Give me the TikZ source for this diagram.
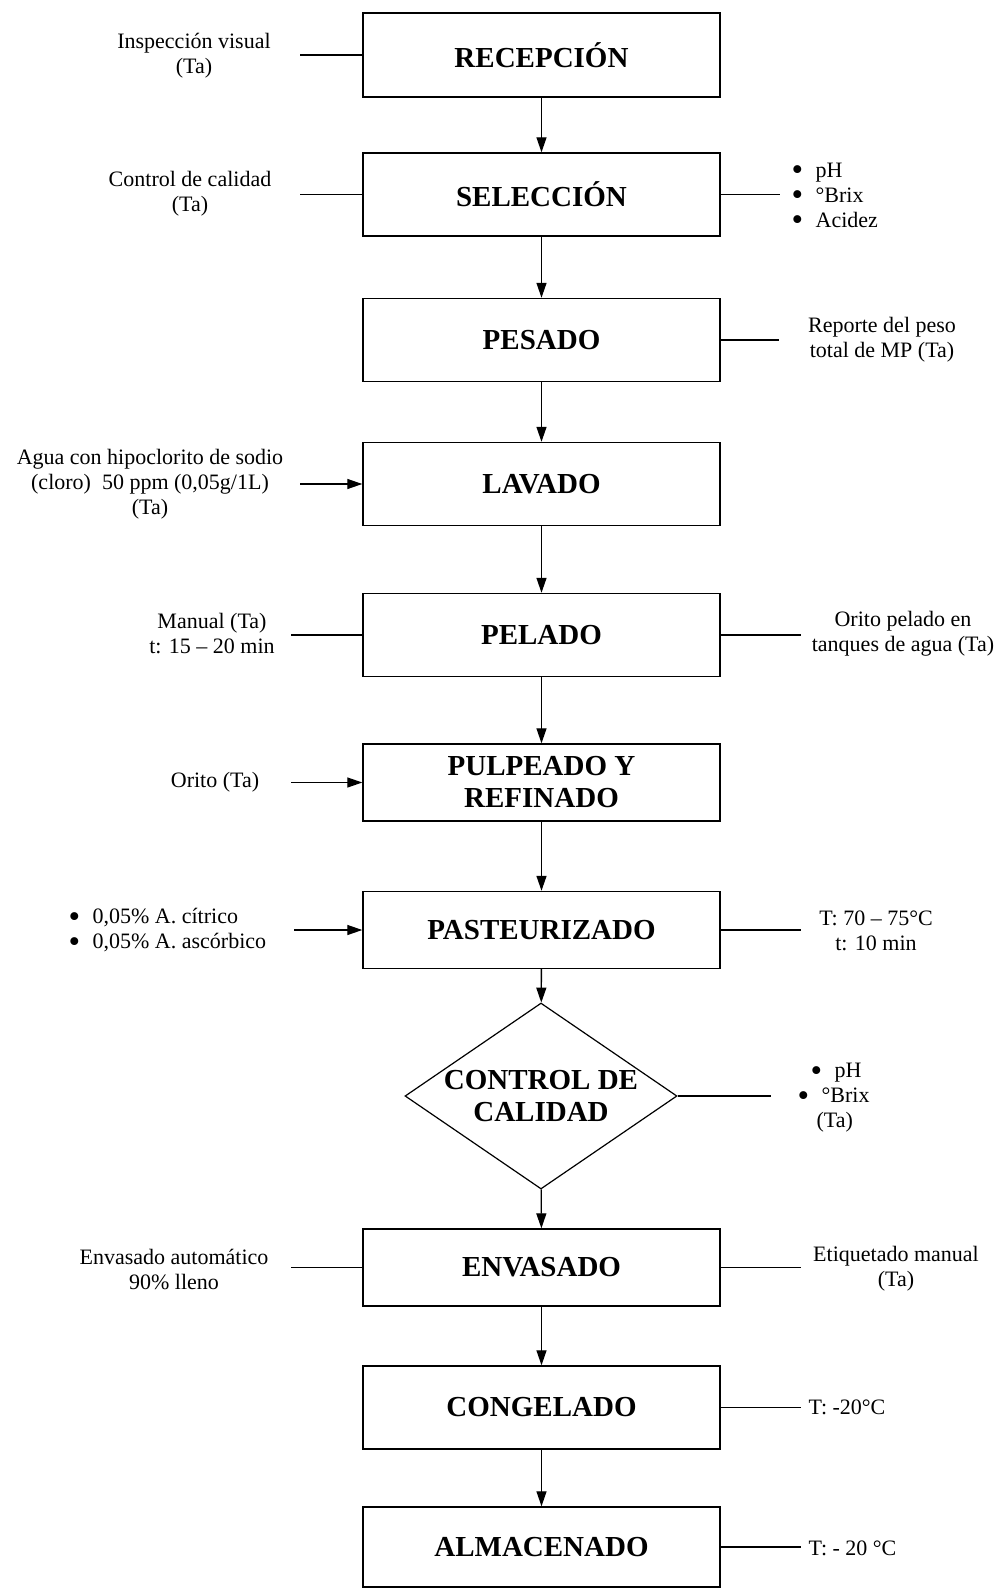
\documentclass[tikz,border=0pt]{standalone}
\usepackage{fontspec}
\setmainfont{Liberation Serif}
\usetikzlibrary{arrows.meta,shapes.geometric}

\newcommand{\itm}{\makebox[12pt][l]{\smash{\raisebox{-1.6pt}{\fontsize{16.5}{0}\selectfont\textbullet}}}}

\tikzset{
  stage/.style={draw, line width=0.7pt, minimum width=178.5pt, minimum height=41.5pt,
    inner sep=0pt, align=center, font=\fontsize{14.5}{16}\selectfont\bfseries},
  check/.style={draw, diamond, line width=0.6pt, minimum width=136pt, minimum height=93pt, inner sep=0pt},
  note/.style={inner sep=0pt, align=center, font=\fontsize{11}{12.5}\selectfont},
}

\begin{document}
\begin{tikzpicture}[x=0.5pt,y=-0.5pt,line width=0.65pt,>={Triangle[length=7.5pt,width=5pt]}]
\useasboundingbox (0,0) rectangle (1003,1589);

% etapas del proceso
\node[stage, minimum height=42pt] (recep) at (541.5,55) {RECEPCIÓN};
\node[stage] (selec) at (541.5,194.5) {SELECCIÓN};
\node[stage] (pesa) at (541.5,340) {PESADO};
\node[stage] (lava) at (541.5,484) {LAVADO};
\node[stage] (pela) at (541.5,635) {PELADO};
\node[stage, minimum height=38.5pt] (pulp) at (541.5,782.5) {PULPEADO Y\\REFINADO};
\node[stage, minimum height=38.5pt] (paste) at (541.5,930) {PASTEURIZADO};
\node[check] (ctrl) at (541,1096) {};
\node[stage, draw=none, minimum width=0pt, minimum height=0pt] (ctrltxt) at (ctrl) {CONTROL DE\\CALIDAD};
\node[stage, minimum height=38.5pt] (enva) at (541.5,1267.5) {ENVASADO};
\node[stage] (conge) at (541.5,1407.5) {CONGELADO};
\node[stage, minimum height=40pt] (alma) at (541.5,1547) {ALMACENADO};

% flujo principal
\draw[->] (recep) -- (selec);
\draw[->] (selec) -- (pesa);
\draw[->] (pesa) -- (lava);
\draw[->] (lava) -- (pela);
\draw[->] (pela) -- (pulp);
\draw[->] (pulp) -- (paste);
\draw[->] (paste) -- (ctrl);
\draw[->] (ctrl) -- (enva);
\draw[->] (enva) -- (conge);
\draw[->] (conge) -- (alma);

% notas
\node[note] (insp) at (194,55.5) {Inspección visual\\(Ta)};
\node[note] (cali) at (190,194) {Control de calidad\\(Ta)};
\node[note, anchor=west, align=left] (selpar) at (791,195) {\itm pH\\\itm °Brix\\\itm Acidez};
\node[note] (peso) at (882,340) {Reporte del peso\\total de MP (Ta)};
\node[note] (agua) at (150,484) {Agua con hipoclorito de sodio\\(cloro)\ \ 50 ppm (0,05g/1L)\\(Ta)};
\node[note] (manual) at (212,633.5) {Manual (Ta)\\t: 15 -- 20 min};
\node[note] (tanque) at (903,633.5) {Orito pelado en\\tanques de agua (Ta)};
\node[note] (orito) at (215,782) {Orito (Ta)};
\node[note, anchor=west, align=left] (acido) at (68,930.5) {\itm 0,05\% A. cítrico\\\itm 0,05\% A. ascórbico};
\node[note] (temp) at (876,930.5) {T: 70 -- 75°C\\t: 10 min};
\node[note, anchor=west, align=left] (ctrlpar) at (797,1098) {\hspace{6.5pt}\itm pH\\\itm °Brix\\\hspace{9.5pt}(Ta)};
\node[note] (auto) at (174,1269) {Envasado automático\\90\% lleno};
\node[note] (etiq) at (896,1269) {Etiquetado manual\\(Ta)};
\node[note, anchor=west] (frio) at (808,1407.5) {T: -20°C};
\node[note, anchor=west] (almt) at (808,1548) {T: - 20 °C};

% lineas laterales
\coordinate (recep-l) at ([xshift=-31pt]recep.west);
\coordinate (selec-l) at ([xshift=-31pt]selec.west);
\coordinate (selec-r) at ([xshift=29.5pt]selec.east);
\coordinate (pesa-r) at ([xshift=29pt]pesa.east);
\coordinate (lava-l) at ([xshift=-31pt]lava.west);
\coordinate (pela-l) at ([xshift=-35.5pt]pela.west);
\coordinate (pela-r) at ([xshift=40pt]pela.east);
\coordinate (pulp-l) at ([xshift=-35.5pt]pulp.west);
\coordinate (paste-l) at ([xshift=-34pt]paste.west);
\coordinate (paste-r) at ([xshift=40pt]paste.east);
\coordinate (ctrl-r) at ([xshift=46.5pt]ctrl.east);
\coordinate (enva-l) at ([xshift=-35.5pt]enva.west);
\coordinate (enva-r) at ([xshift=40pt]enva.east);
\coordinate (conge-r) at ([xshift=40pt]conge.east);
\coordinate (alma-r) at ([xshift=40pt]alma.east);

\draw (recep-l) -- (recep.west);
\draw (selec-l) -- (selec.west);
\draw (selec.east) -- (selec-r);
\draw (pesa.east) -- (pesa-r);
\draw[->] (lava-l) -- (lava.west);
\draw (pela-l) -- (pela.west);
\draw (pela.east) -- (pela-r);
\draw[->] (pulp-l) -- (pulp.west);
\draw[->] (paste-l) -- (paste.west);
\draw (paste.east) -- (paste-r);
\draw (ctrl.east) -- (ctrl-r);
\draw (enva-l) -- (enva.west);
\draw (enva.east) -- (enva-r);
\draw (conge.east) -- (conge-r);
\draw (alma.east) -- (alma-r);
\end{tikzpicture}
\end{document}
